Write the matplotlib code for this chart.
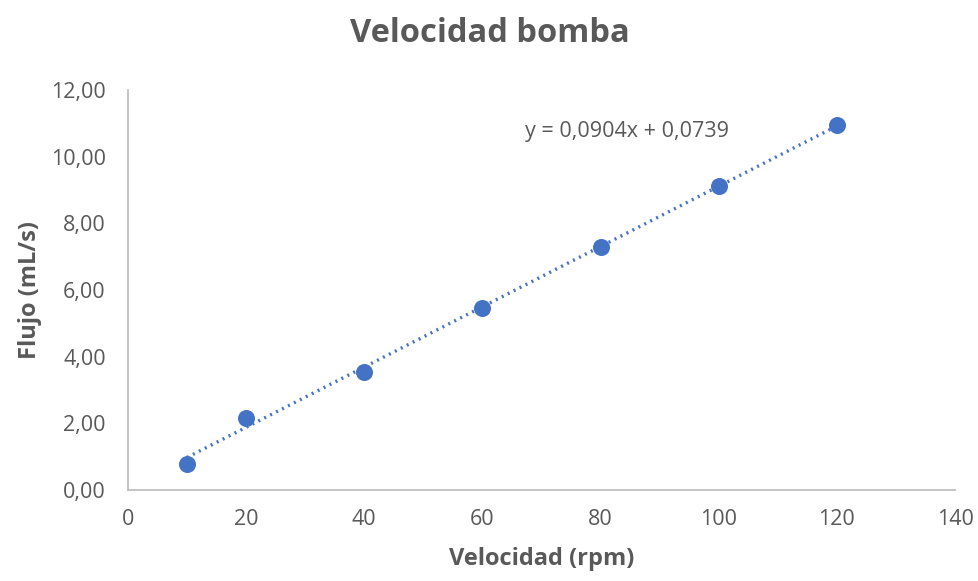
import matplotlib
matplotlib.use("Agg")
import matplotlib.pyplot as plt
from matplotlib.ticker import FuncFormatter, MultipleLocator

# data
velocidad = [10, 20, 40, 60, 80, 100, 120]
flujo = [0.78, 2.16, 3.54, 5.46, 7.29, 9.12, 10.95]
pendiente = 0.0904
intercepto = 0.0739
ecuacion = "y = 0,0904x + 0,0739"

plt.rcParams['font.family'] = ['Open Sans', 'DejaVu Sans']
gris = '#595959'
azul = '#4472C4'

fig = plt.figure(figsize=(9.79, 5.81), dpi=100)
ax = fig.add_axes([0.1307, 0.1566, 0.8448, 0.6884])

ax.scatter(velocidad, flujo, s=150, color=azul, zorder=3, linewidths=0)
xs = [velocidad[0], velocidad[-1]]
ax.plot(xs, [pendiente * x + intercepto for x in xs], color=azul, lw=2.4,
        linestyle=(0, (0.6, 1.4)), zorder=2)
ax.text(84.5, 10.77, ecuacion, ha='center', va='center', fontsize=15.5, color=gris)

ax.set_xlim(0, 140)
ax.set_ylim(0, 12)
ax.xaxis.set_major_locator(MultipleLocator(20))
ax.yaxis.set_major_locator(MultipleLocator(2))
ax.yaxis.set_major_formatter(FuncFormatter(lambda v, p: f"{v:.2f}".replace('.', ',')))
ax.xaxis.set_major_formatter(FuncFormatter(lambda v, p: f"{v:.0f}"))
ax.tick_params(axis='y', length=0, labelsize=15.5, colors=gris, pad=16)
ax.tick_params(axis='x', length=0, labelsize=15.5, colors=gris, pad=14)

for s in ['top', 'right']:
    ax.spines[s].set_visible(False)
for s in ['left', 'bottom']:
    ax.spines[s].set_color('#BFBFBF')
    ax.spines[s].set_linewidth(1.3)

ax.set_xlabel('Velocidad (rpm)', fontsize=17, fontweight='bold', color=gris, labelpad=12)
ax.set_ylabel('Flujo (mL/s)', fontsize=17, fontweight='bold', color=gris)
ax.yaxis.set_label_coords(-0.104, 0.5)
fig.text(0.5, 0.943, 'Velocidad bomba', ha='center', va='center',
         fontsize=23.5, fontweight='bold', color=gris)

fig.savefig('out.png', dpi=100)
